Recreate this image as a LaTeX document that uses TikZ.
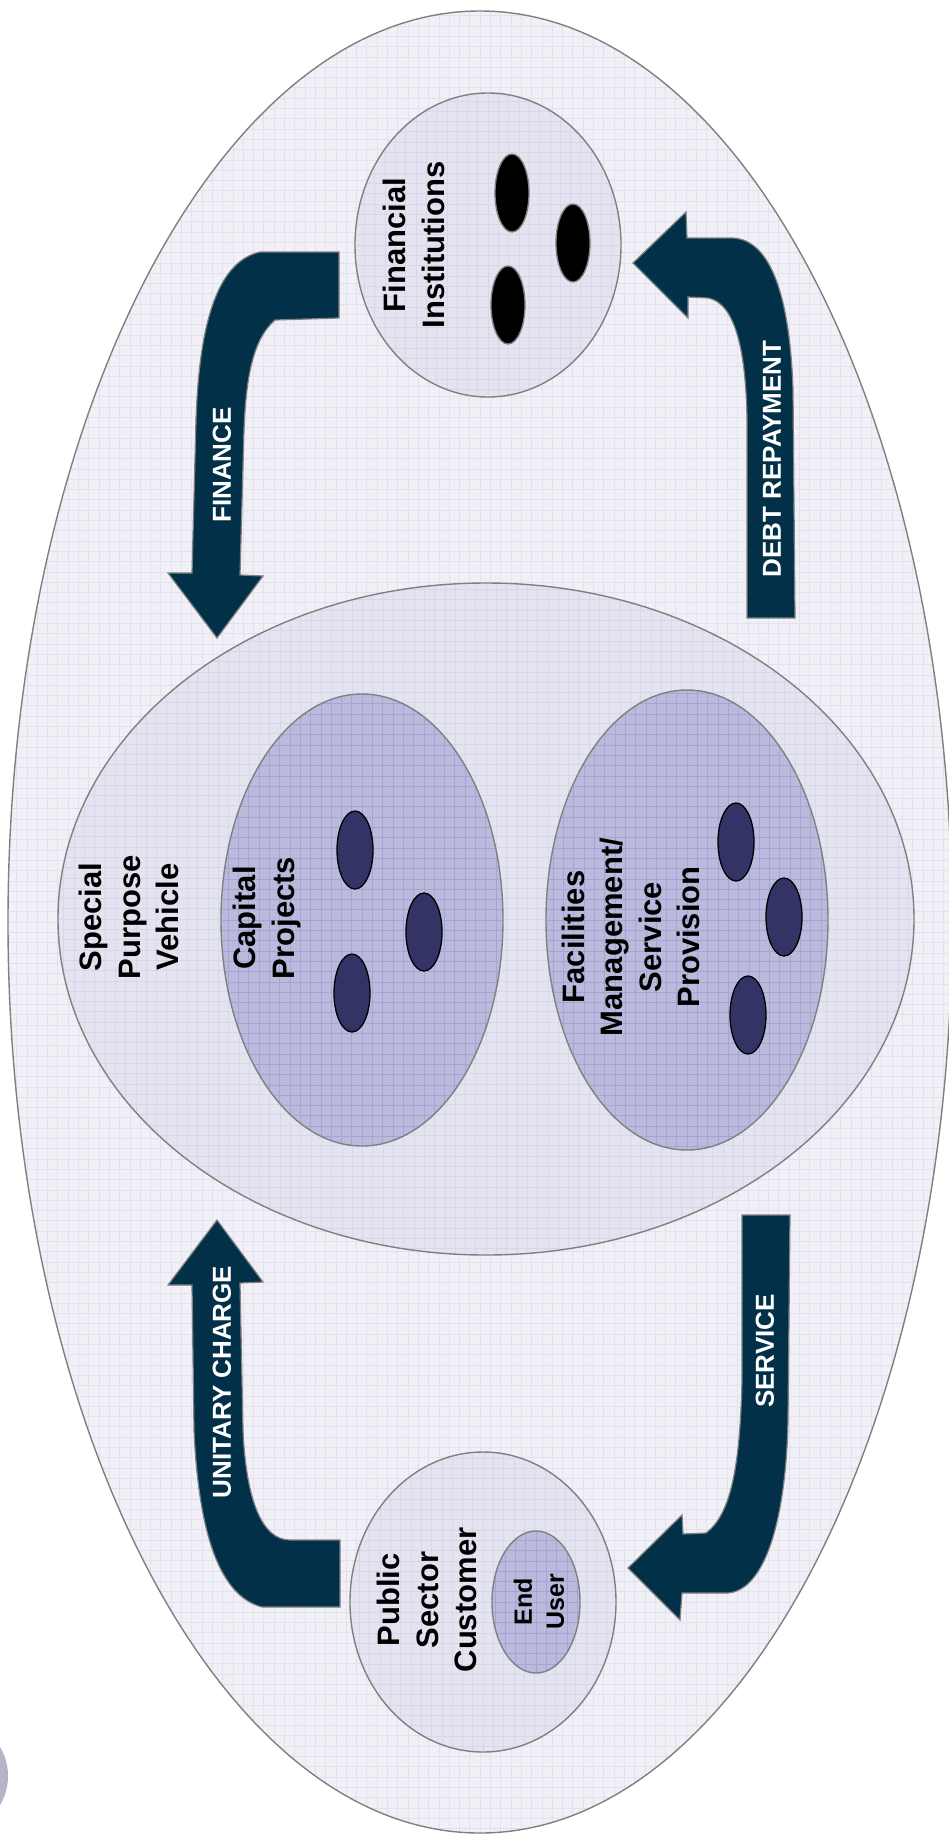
\documentclass[tikz,border=0pt]{standalone}
\usepackage{fontspec}
\setmainfont{Liberation Sans}
\usetikzlibrary{shapes.geometric}
\definecolor{navy}{RGB}{2,48,72}
\definecolor{outl}{RGB}{128,128,128}
\definecolor{bgfill}{RGB}{240,240,246}
\definecolor{bggrid}{RGB}{226,226,238}
\definecolor{midfill}{RGB}{228,228,240}
\definecolor{midgrid}{RGB}{215,215,233}
\definecolor{innfill}{RGB}{186,186,221}
\definecolor{inngrid}{RGB}{165,165,212}
\definecolor{dotfill}{RGB}{51,51,102}
\definecolor{shadelight}{RGB}{228,228,238}
\definecolor{shadedark}{RGB}{178,178,198}
\tikzset{
  blob/.style={ellipse, draw=outl, line width=1.4pt, inner sep=0pt},
  gridded/.style 2 args={fill=#1, path picture={\draw[#2, line width=0.6pt, step=10.3pt]
      (path picture bounding box.south west) grid (path picture bounding box.north east);}},
  darkdot/.style={ellipse, draw=black, line width=1.3pt, fill=dotfill, inner sep=0pt,
      minimum width=36pt, minimum height=78pt},
  blackdot/.style={ellipse, draw=outl, line width=1.3pt, fill=black, inner sep=0pt,
      minimum width=34pt, minimum height=78pt},
  barrow/.style={fill=navy, draw=outl, line width=1.2pt, line join=miter},
  bigtext/.style={rotate=90, align=center, inner sep=0pt, font=\fontsize{31}{38.5}\selectfont\bfseries},
  smalltext/.style={rotate=90, align=center, inner sep=0pt, font=\fontsize{25}{32}\selectfont\bfseries},
  arrowlabel/.style={rotate=90, text=white, inner sep=0pt, font=\fontsize{26}{30}\selectfont\bfseries}
}
\begin{document}
\begin{tikzpicture}[x=1pt, y=-1pt]
\useasboundingbox (0,0) rectangle (949,1840);
\fill[white] (0,0) rectangle (949,1840);

% outer ellipse
\node[blob, gridded={bgfill}{bggrid}, minimum width=944pt, minimum height=1822pt] (outer) at (480,922) {};

% partial shaded shape at bottom left
\shade[left color=shadelight, right color=shadedark] (-40,1776) ellipse [x radius=48pt, y radius=53pt];

% special purpose vehicle
\node[blob, gridded={midfill}{midgrid}, minimum width=856pt, minimum height=672pt] (spv) at (486,919) {};
\node[blob, gridded={innfill}{inngrid}, minimum width=282pt, minimum height=452pt] (cp) at (362,920) {};
\node[blob, gridded={innfill}{inngrid}, minimum width=282pt, minimum height=460pt] (fm) at (687,920) {};

% financial institutions
\node[blob, gridded={midfill}{midgrid}, minimum width=266pt, minimum height=304pt] (fi) at (488,245) {};

% public sector customer
\node[blob, gridded={midfill}{midgrid}, minimum width=266pt, minimum height=300pt] (psc) at (483,1602) {};
\node[blob, gridded={innfill}{inngrid}, minimum width=88pt, minimum height=142pt] (eu) at (536,1602) {};

% dots
\node[blackdot] (fi1) at (512,193) {};
\node[blackdot] (fi2) at (573,243) {};
\node[blackdot] (fi3) at (508,305) {};
\node[darkdot] (cp1) at (355,850) {};
\node[darkdot] (cp2) at (424,932) {};
\node[darkdot] (cp3) at (352,993) {};
\node[darkdot] (fm1) at (736,842) {};
\node[darkdot] (fm2) at (784,917) {};
\node[darkdot] (fm3) at (748,1015) {};

% block arrows
\path[barrow] (260,252) -- (339,252) -- (339,318) -- (275,320)
  .. controls (252,340) and (246,380) .. (244,430) -- (240,575) -- (263,576)
  -- (217,638) -- (168,573) -- (192,573) -- (196,420)
  .. controls (199,330) and (215,262) .. (260,252) -- cycle;
\path[barrow] (747,618) -- (795,618) -- (793,390)
  .. controls (790,300) and (772,240) .. (733,238) -- (687,238) -- (686,212)
  -- (633,263) -- (688,318) -- (688,297) -- (708,298)
  .. controls (735,303) and (746,350) .. (747,420) -- cycle;
\path[barrow] (217,1220) -- (263,1282) -- (240,1283) -- (243,1430)
  .. controls (246,1500) and (262,1540) .. (290,1540) -- (340,1540) -- (340,1607)
  -- (262,1607) .. controls (215,1595) and (198,1520) .. (194,1430)
  -- (192,1285) -- (168,1285) -- cycle;
\path[barrow] (742,1215) -- (790,1215) -- (788,1420)
  .. controls (786,1520) and (765,1590) .. (728,1593) -- (682,1593) -- (680,1620)
  -- (628,1568) -- (682,1515) -- (683,1534) -- (706,1533)
  .. controls (730,1515) and (740,1470) .. (742,1380) -- cycle;

% texts
\node[bigtext] (tspv) at (129,917) {Special\\Purpose\\Vehicle};
\node[bigtext] (tcp) at (267,918) {Capital\\Projects};
\node[bigtext] (tfm) at (631,937) {Facilities\\Management/\\Service\\Provision};
\node[bigtext] (tfi) at (414,245) {Financial\\Institutions};
\node[bigtext] (tpsc) at (427,1600) {Public\\Sector\\Customer};
\node[smalltext] (teu) at (539,1602) {End\\User};

\node[arrowlabel] (lfin) at (222,465) {FINANCE};
\node[arrowlabel] (ldebt) at (772,459) {DEBT REPAYMENT};
\node[arrowlabel] (lunit) at (222,1382) {UNITARY CHARGE};
\node[arrowlabel] (lserv) at (765,1351) {SERVICE};
\end{tikzpicture}
\end{document}
